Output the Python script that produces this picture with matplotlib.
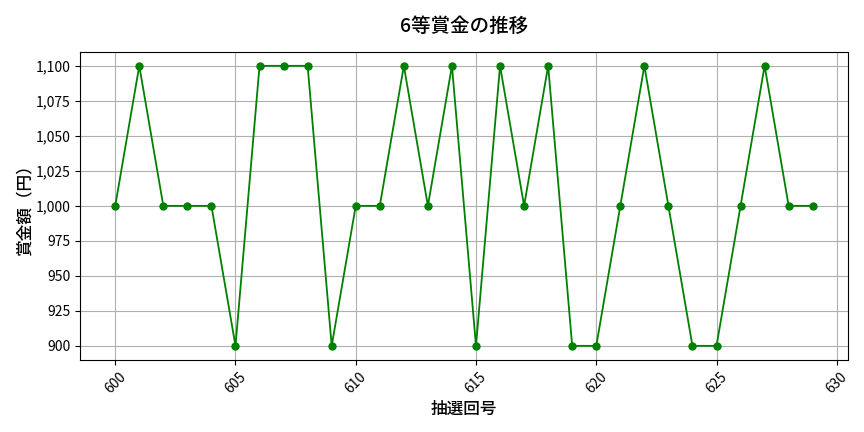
import matplotlib
matplotlib.use("Agg")
import matplotlib.pyplot as plt
from matplotlib.ticker import FuncFormatter

plt.rcParams['font.family'] = ['Noto Sans CJK JP', 'DejaVu Sans']

draws = list(range(600, 630))
prize = [1000, 1100, 1000, 1000, 1000, 900, 1100, 1100, 1100, 900,
         1000, 1000, 1100, 1000, 1100, 900, 1100, 1000, 1100, 900,
         900, 1000, 1100, 1000, 900, 900, 1000, 1100, 1000, 1000]

fig, ax = plt.subplots(figsize=(8.64, 4.32), dpi=100)
ax.plot(draws, prize, color='green', marker='o', markersize=5, linewidth=1.3)

ax.set_title('6等賞金の推移', fontsize=14, fontweight='medium', pad=14)
ax.set_xlabel('抽選回号', fontsize=12, fontweight='medium', labelpad=3)
ax.set_ylabel('賞金額（円）', fontsize=12, fontweight='medium', labelpad=2)
ax.yaxis.set_major_formatter(FuncFormatter(lambda v, p: f'{int(v):,}'))
ax.tick_params(axis='x', labelrotation=45)
ax.grid(True, color='#b0b0b0', linewidth=0.8)

fig.subplots_adjust(left=0.093, right=0.981, top=0.88, bottom=0.167)
fig.savefig('out.png')
